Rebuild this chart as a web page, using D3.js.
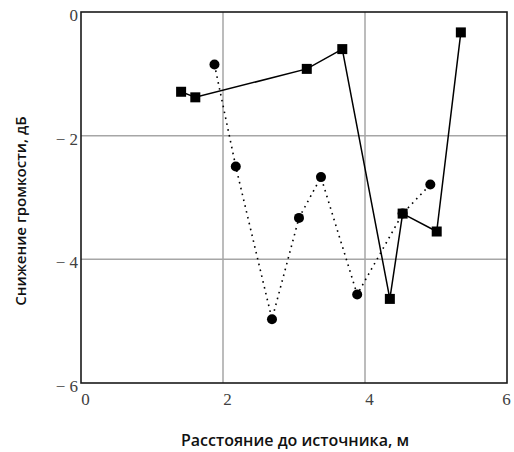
<!DOCTYPE html>
<html>
<head>
<meta charset="utf-8">
<script src="https://cdn.jsdelivr.net/npm/d3@7"></script>
<style>
body { margin: 0; background: #fff; }
.tick text { font-family: "Liberation Serif", "DejaVu Serif", serif; font-size: 17px; }
</style>
</head>
<body>
<script>
var width = 514,
  height = 452;

// data
var xTicks = [0, 2, 4, 6];
var yTicks = [0, -2, -4, -6];
var squareX = [1.41, 1.61, 3.18, 3.68, 4.35, 4.53, 5.01, 5.35];
var squareY = [-1.29, -1.38, -0.92, -0.60, -4.64, -3.26, -3.55, -0.33];
var circleX = [1.88, 2.18, 2.69, 3.07, 3.38, 3.89, 4.53, 4.92];
var circleY = [-0.85, -2.50, -4.97, -3.33, -2.67, -4.57, -3.26, -2.79];

var m = { left: 81, top: 12, right: 7, bottom: 69 };

var x = d3.scaleLinear().domain([0, 6]).range([m.left, width - m.right]);
var y = d3.scaleLinear().domain([-6, 0]).range([height - m.bottom, m.top]);

var svg = d3
  .select("body")
  .append("svg")
  .attr("width", width)
  .attr("height", height);

// grid
svg.append("g")
  .selectAll("line")
  .data(xTicks.slice(1, -1))
  .enter()
  .append("line")
  .attr("x1", function (d) { return x(d); })
  .attr("x2", function (d) { return x(d); })
  .attr("y1", y(0))
  .attr("y2", y(-6))
  .attr("stroke", "#a6a6a6")
  .attr("stroke-width", 1.5);
svg.append("g")
  .selectAll("line")
  .data(yTicks.slice(1, -1))
  .enter()
  .append("line")
  .attr("y1", function (d) { return y(d); })
  .attr("y2", function (d) { return y(d); })
  .attr("x1", x(0))
  .attr("x2", x(6))
  .attr("stroke", "#a6a6a6")
  .attr("stroke-width", 1.5);

// frame
svg.append("rect")
  .attr("x", x(0))
  .attr("y", y(0))
  .attr("width", x(6) - x(0))
  .attr("height", y(-6) - y(0))
  .attr("fill", "none")
  .attr("stroke", "#1a1a1a")
  .attr("stroke-width", 1.6);

// axes
var fmt = function (d) { return d < 0 ? "\u2212 " + Math.abs(d) : String(d); };
var xAxis = svg.append("g")
  .attr("transform", "translate(0," + y(-6) + ")")
  .call(d3.axisBottom(x).tickValues(xTicks).tickSize(0).tickPadding(10).tickFormat(fmt));
var yAxis = svg.append("g")
  .attr("transform", "translate(" + x(0) + ",0)")
  .call(d3.axisLeft(y).tickValues(yTicks).tickSize(0).tickPadding(3).tickFormat(fmt));
[xAxis, yAxis].forEach(function (a) {
  a.select(".domain").remove();
  a.attr("font-family", "'Liberation Serif', serif").attr("font-size", 17);
  a.selectAll("text").attr("fill", "#404040");
});
xAxis.selectAll("text").attr("dx", function (d) { return d === 6 ? -1 : 4; });
yAxis.selectAll("text").attr("dy", "0.5em");

// series
var sq = squareX.map(function (v, i) { return [v, squareY[i]]; });
var ci = circleX.map(function (v, i) { return [v, circleY[i]]; });
var line = d3.line()
  .x(function (d) { return x(d[0]); })
  .y(function (d) { return y(d[1]); });

svg.append("path")
  .datum(ci)
  .attr("d", line)
  .attr("fill", "none")
  .attr("stroke", "#000")
  .attr("stroke-width", 1.6)
  .attr("stroke-dasharray", "1.6,4.4");

svg.append("path")
  .datum(sq)
  .attr("d", line)
  .attr("fill", "none")
  .attr("stroke", "#000")
  .attr("stroke-width", 1.5);

svg.append("g")
  .selectAll("circle")
  .data(ci)
  .enter()
  .append("circle")
  .attr("cx", function (d) { return x(d[0]); })
  .attr("cy", function (d) { return y(d[1]); })
  .attr("r", 5)
  .attr("fill", "#000");

svg.append("g")
  .selectAll("rect")
  .data(sq)
  .enter()
  .append("rect")
  .attr("x", function (d) { return x(d[0]) - 5; })
  .attr("y", function (d) { return y(d[1]) - 5; })
  .attr("width", 10)
  .attr("height", 10)
  .attr("fill", "#000");

// titles
svg.append("text")
  .attr("x", 295)
  .attr("y", 446)
  .attr("text-anchor", "middle")
  .style("font-family", "'Open Sans', sans-serif")
  .style("font-weight", 600)
  .style("font-size", "16px")
  .attr("fill", "#111")
  .text("Расстояние до источника, м");
svg.append("text")
  .attr("transform", "translate(26,211) rotate(-90)")
  .attr("text-anchor", "middle")
  .style("font-family", "'Open Sans', sans-serif")
  .style("font-weight", 600)
  .style("font-size", "15px")
  .attr("fill", "#111")
  .text("Снижение громкости, дБ");
</script>
</body>
</html>
